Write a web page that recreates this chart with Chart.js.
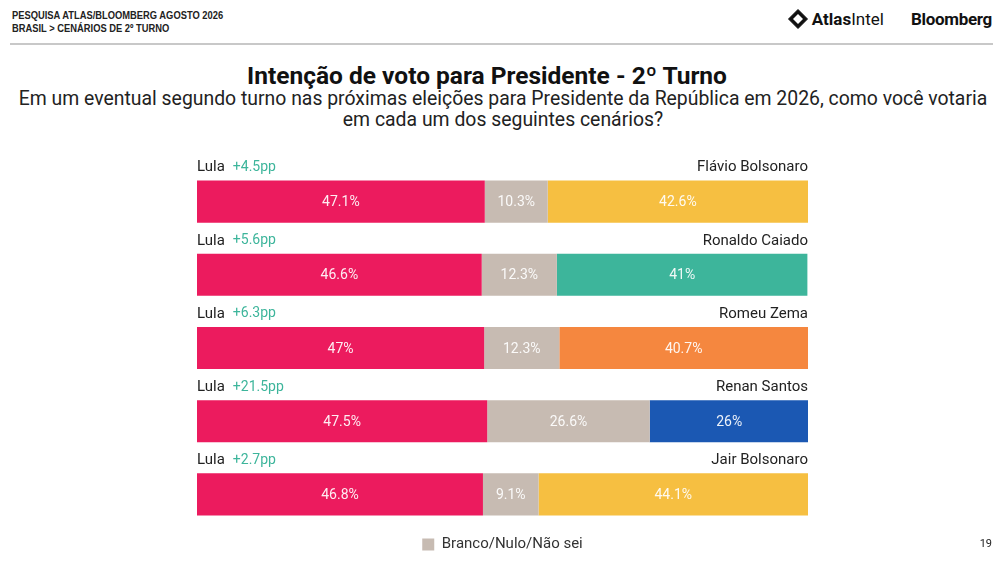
<!DOCTYPE html>
<html lang="pt-BR">
<head>
<meta charset="utf-8">
<title>Intenção de voto para Presidente - 2º Turno</title>
<script src="https://cdn.jsdelivr.net/npm/chart.js@4.4.1/dist/chart.umd.min.js"></script>
<style>
  html, body { margin: 0; padding: 0; background: #fff; }
  body { width: 1006px; height: 562px; position: relative; overflow: hidden; font-family: Roboto, "Noto Sans", sans-serif; }
  .top { position: absolute; left: 12px; top: 9px; font-family: "Liberation Sans", sans-serif; font-weight: bold; font-size: 11px; line-height: 13px; color: #222; transform: scaleX(0.85); transform-origin: left top; white-space: nowrap; }
  .rule { position: absolute; left: 10px; right: 13px; top: 43px; height: 2px; background: #c8c8c8; }
  .logos { position: absolute; right: 14px; top: 9px; display: flex; align-items: center; }
  .atlas { display: flex; align-items: center; font-size: 17px; color: #111; margin-right: 27px; }
  .atlas svg { margin-right: 4px; }
  .bloom { font-weight: bold; font-size: 17px; color: #111; letter-spacing: -0.3px; }
  h1 { position: absolute; left: 0; right: 32px; top: 61px; margin: 0; text-align: center; font-size: 24.5px; font-weight: bold; color: #111; letter-spacing: 0px; }
  .sub { position: absolute; left: 0; right: 0; top: 88px; text-align: center; font-size: 19.4px; line-height: 21px; color: #222; }
  #wrap { position: absolute; left: 0; top: 0; width: 1006px; height: 562px; }
  .page { position: absolute; right: 14px; top: 537px; font-size: 11px; color: #222; }
</style>
</head>
<body>
<div class="top">PESQUISA ATLAS/BLOOMBERG AGOSTO 2026<br>BRASIL &gt; CENÁRIOS DE 2º TURNO</div>
<div class="logos">
  <div class="atlas">
    <svg width="20" height="20" viewBox="0 0 20 20"><path d="M10 0.5 L19.5 10 L10 19.5 L0.5 10 Z" fill="#111" stroke="#111" stroke-width="1" stroke-linejoin="round"/><path d="M10 5 L15 10 L10 15 L5 10 Z" fill="#fff"/></svg>
    <span><b>Atlas</b>Intel</span>
  </div>
  <div class="bloom">Bloomberg</div>
</div>
<div class="rule"></div>
<h1>Intenção de voto para Presidente - 2º Turno</h1>
<div class="sub">Em um eventual segundo turno nas próximas eleições para Presidente da República em 2026, como você votaria<br>em cada um dos seguintes cenários?</div>
<div id="wrap"><canvas id="chart"></canvas></div>
<div class="page">19</div>
<script>
const scenarios = ['Flávio Bolsonaro', 'Ronaldo Caiado', 'Romeu Zema', 'Renan Santos', 'Jair Bolsonaro'];
const lulaValues = [47.1, 46.6, 47, 47.5, 46.8];
const brancoValues = [10.3, 12.3, 12.3, 26.6, 9.1];
const opponentValues = [42.6, 41, 40.7, 26, 44.1];
const leadLabels = ['+4.5pp', '+5.6pp', '+6.3pp', '+21.5pp', '+2.7pp'];

const opponentColors = ['#f6bf41', '#3db59b', '#f5873f', '#1b58b3', '#f6bf41'];
const LULA_RED = '#ec1b5e';
const GRAY = '#c7bbb2';
const GREEN = '#3db59b';

// labels on top of each bar + values inside the segments
const barText = {
  id: 'barText',
  afterDatasetsDraw(chart) {
    const ctx = chart.ctx;
    const area = chart.chartArea;
    ctx.save();
    ctx.textBaseline = 'middle';
    chart.data.datasets.forEach((ds, di) => {
      const meta = chart.getDatasetMeta(di);
      meta.data.forEach((el, i) => {
        const cx = (el.x + el.base) / 2;
        ctx.font = '14px Roboto, sans-serif';
        ctx.fillStyle = 'rgba(255,255,255,0.92)';
        ctx.textAlign = 'center';
        ctx.fillText(ds.data[i] + '%', cx, el.y + 1);
      });
    });
    const first = chart.getDatasetMeta(0);
    first.data.forEach((el, i) => {
      const ty = el.y - el.height / 2 - 13;
      ctx.font = '15px Roboto, sans-serif';
      ctx.fillStyle = '#222';
      ctx.textAlign = 'left';
      ctx.fillText('Lula', area.left, ty);
      const w = ctx.measureText('Lula').width;
      ctx.font = '14px Roboto, sans-serif';
      ctx.fillStyle = GREEN;
      ctx.fillText(leadLabels[i], area.left + w + 8, ty);
      ctx.font = '15px Roboto, sans-serif';
      ctx.fillStyle = '#222';
      ctx.textAlign = 'right';
      ctx.fillText(scenarios[i], area.right, ty);
    });
    ctx.restore();
  }
};

new Chart(document.getElementById('chart'), {
  type: 'bar',
  data: {
    labels: scenarios,
    datasets: [
      { label: 'Lula', data: lulaValues, backgroundColor: LULA_RED },
      { label: 'Branco/Nulo/Não sei', data: brancoValues, backgroundColor: GRAY },
      { label: 'Oponente', data: opponentValues, backgroundColor: opponentColors }
    ]
  },
  options: {
    indexAxis: 'y',
    responsive: true,
    maintainAspectRatio: false,
    animation: false,
    categoryPercentage: 1,
    barPercentage: 0.575,
    layout: { padding: { left: 197, right: 198, top: 165, bottom: 0 } },
    scales: {
      x: { stacked: true, min: 0, max: 100, display: false, grid: { display: false } },
      y: { stacked: true, display: false, grid: { display: false } }
    },
    plugins: {
      legend: {
        position: 'bottom',
        labels: {
          filter: item => item.datasetIndex === 1,
          boxWidth: 12,
          boxHeight: 12,
          padding: 6,
          color: '#333',
          font: { size: 15, family: 'Roboto, sans-serif' }
        }
      },
      tooltip: { enabled: false }
    }
  },
  plugins: [barText]
});
</script>
</body>
</html>
